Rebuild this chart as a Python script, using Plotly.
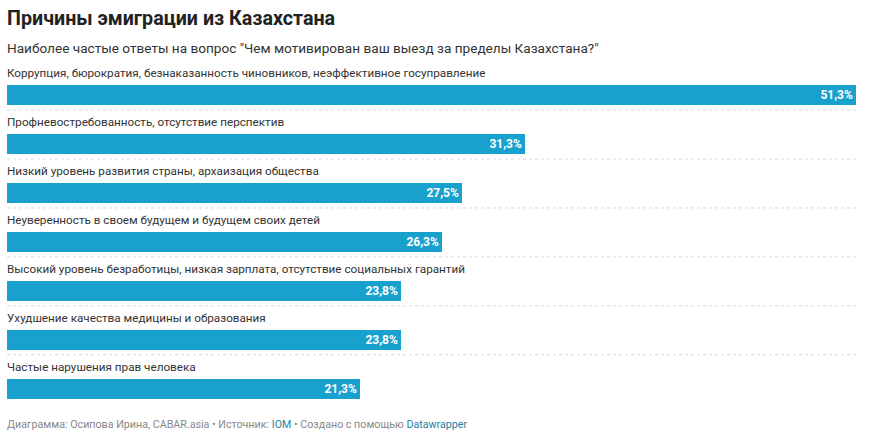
import plotly.graph_objects as go

categories = [
    "Коррупция, бюрократия, безнаказанность чиновников, неэффективное госуправление",
    "Профневостребованность, отсутствие перспектив",
    "Низкий уровень развития страны, архаизация общества",
    "Неуверенность в своем будущем и будущем своих детей",
    "Высокий уровень безработицы, низкая зарплата, отсутствие социальных гарантий",
    "Ухудшение качества медицины и образования",
    "Частые нарушения прав человека",
]
values = [51.3, 31.3, 27.5, 26.3, 23.8, 23.8, 21.3]
value_labels = ["51,3%", "31,3%", "27,5%", "26,3%", "23,8%", "23,8%", "21,3%"]

W, H = 869, 444
ML, MR = 7, 13
ROW = 49.0
TOP = 46.0
PLOT_H = 7.5 * ROW
MB = H - TOP - PLOT_H

def py(px):
    return (TOP + PLOT_H - px) / PLOT_H

pos = list(range(len(categories)))

fig = go.Figure()
fig.add_trace(go.Bar(
    x=values, y=pos, orientation="h",
    width=20 / ROW,
    marker=dict(color="#18a1cd", line=dict(width=0)),
    text=value_labels, textposition="inside", insidetextanchor="end",
    textfont=dict(family="Roboto", size=12, color="white", weight="bold"),
    hoverinfo="skip",
))

shapes = []
for i in pos[:-1]:
    shapes.append(dict(type="line", xref="paper", yref="y", x0=0, x1=1,
                       y0=i + 0.31, y1=i + 0.31,
                       line=dict(color="#d9d9d9", width=1, dash="dot")))

annotations = []
for i, c in zip(pos, categories):
    annotations.append(dict(xref="paper", yref="y", x=0, y=i, yshift=22, xshift=-2,
                            text=c, showarrow=False, xanchor="left", yanchor="middle",
                            font=dict(family="Roboto", size=11.7, color="#333333")))

annotations.append(dict(xref="paper", yref="paper", x=0, y=py(18), xshift=-2,
                        text="<b>Причины эмиграции из Казахстана</b>",
                        showarrow=False, xanchor="left", yanchor="middle",
                        font=dict(family="Roboto", size=19.7, color="#222222")))
annotations.append(dict(xref="paper", yref="paper", x=0, y=py(48), xshift=-2,
                        text='Наиболее частые ответы на вопрос "Чем мотивирован ваш выезд за пределы Казахстана?"',
                        showarrow=False, xanchor="left", yanchor="middle",
                        font=dict(family="Roboto", size=13.6, color="#333333")))
annotations.append(dict(xref="paper", yref="paper", x=0, y=py(425), xshift=-2,
                        text='Диаграмма: Осипова Ирина, CABAR.asia • Источник: <span style="color:#1d81a2">IOM</span> • Создано с помощью <span style="color:#1d81a2">Datawrapper</span>',
                        showarrow=False, xanchor="left", yanchor="middle",
                        font=dict(family="Roboto", size=10.7, color="#888888")))

fig.update_layout(
    width=W, height=H,
    margin=dict(l=ML, r=MR, t=TOP, b=MB),
    paper_bgcolor="white", plot_bgcolor="white",
    showlegend=False,
    xaxis=dict(range=[0, 51.3], visible=False, fixedrange=True),
    yaxis=dict(range=[6.5, -1], visible=False, fixedrange=True),
    shapes=shapes, annotations=annotations,
    bargap=0,
)

fig.write_html("out.html", config={"displayModeBar": False})
